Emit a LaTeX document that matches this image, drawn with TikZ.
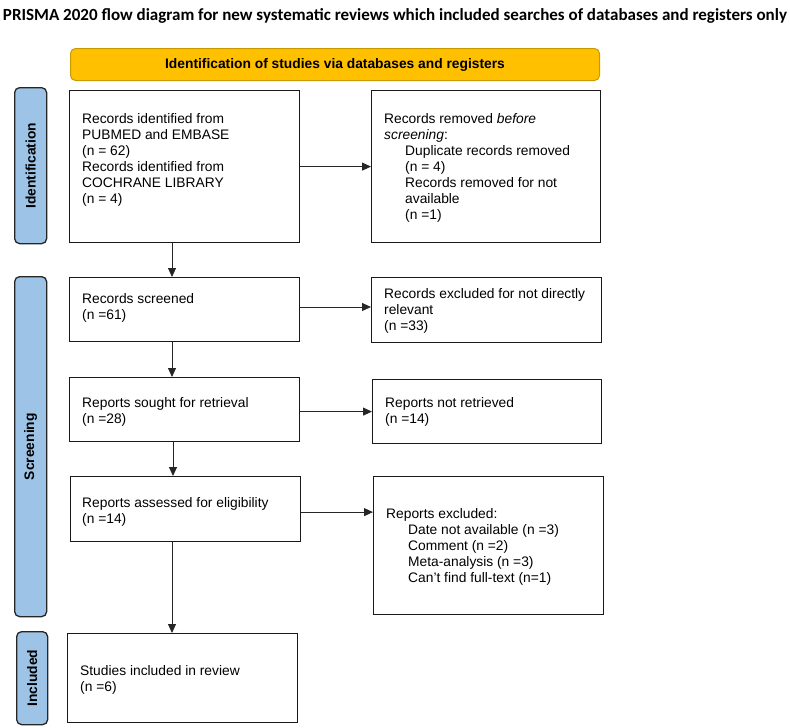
\documentclass[tikz,border=0pt]{standalone}
\usepackage{graphicx}
\usepackage{fontspec}
\setmainfont{Liberation Sans}
\newfontfamily\titlefont{Carlito}
\usetikzlibrary{arrows.meta}
\definecolor{gold}{HTML}{FFC000}
\definecolor{goldline}{HTML}{C99A00}
\definecolor{sideblue}{HTML}{9DC3E6}
\begin{document}
\begin{tikzpicture}[x=1pt,y=-1pt,
 box/.style={draw=black!90, line width=1.2pt, anchor=north west, inner sep=0pt, fill=white},
 txt/.style={anchor=base west, inner sep=0pt, align=left, font=\fontsize{13.8}{16}\selectfont},
 side/.style={draw=black!85, line width=1.3pt, fill=sideblue, rounded corners=5pt, anchor=north west, inner sep=0pt},
 sidetxt/.style={rotate=90, inner sep=0pt, font=\fontsize{13.8}{16}\selectfont\bfseries},
 arr/.style={-{Triangle[length=9pt,width=8pt]}, line width=0.9pt, draw=black!85}]
\useasboundingbox (0,0) rectangle (790,728);
% title
\node[anchor=base, inner sep=0pt] (title) at (395,20) {\resizebox{784pt}{!}{\titlefont\bfseries PRISMA 2020 flow diagram for new systematic reviews which included searches of databases and registers only}};
% header
\node[draw=goldline, fill=gold, line width=1pt, rounded corners=5pt, minimum width=529pt, minimum height=32pt, anchor=north west, inner sep=0pt] (hdr) at (70,48) {};
\node[inner sep=0pt, font=\fontsize{13.8}{16}\selectfont\bfseries] (hdrtxt) at (hdr.center) {Identification of studies via databases and registers};
% side labels
\node[side, minimum width=32pt, minimum height=156pt] (s1) at (14,87) {};
\node[sidetxt] (l1) at (s1.center) {Identification};
\node[side, minimum width=32pt, minimum height=340pt] (s2) at (14,276) {};
\node[sidetxt] (l2) at (s2.center) {Screening};
\node[side, minimum width=31pt, minimum height=93pt] (s3) at (16,631) {};
\node[sidetxt] (l3) at (s3.center) {Included};
% boxes
\node[box, minimum width=230pt, minimum height=152pt] (b1) at (69,90) {};
\node[box, minimum width=229pt, minimum height=152pt] (b2) at (371,90) {};
\node[box, minimum width=230pt, minimum height=64pt] (b3) at (69,277) {};
\node[box, minimum width=230pt, minimum height=65pt] (b4) at (371,277) {};
\node[box, minimum width=230pt, minimum height=64pt] (b5) at (69,377) {};
\node[box, minimum width=229pt, minimum height=64pt] (b6) at (372,379) {};
\node[box, minimum width=230pt, minimum height=65pt] (b7) at (70,476) {};
\node[box, minimum width=230pt, minimum height=138pt] (b8) at (373,476) {};
\node[box, minimum width=230pt, minimum height=89pt] (b9) at (67,633) {};
% texts (anchored at the baseline of the last line)
\node[txt] (t1) at (82,203) {Records identified from\\PUBMED and EMBASE\\(n = 62)\\Records identified from\\COCHRANE LIBRARY\\(n = 4)};
\node[txt] (t2) at (384,219) {Records removed \textit{before}\\\textit{screening}:\\\hspace*{21pt}Duplicate records removed\\\hspace*{21pt}(n = 4)\\\hspace*{21pt}Records removed for not\\\hspace*{21pt}available\\\hspace*{21pt}(n =1)};
\node[txt] (t3) at (82,319) {Records screened\\(n =61)};
\node[txt] (t4) at (384,330) {Records excluded for not directly\\relevant\\(n =33)};
\node[txt] (t5) at (82,423) {Reports sought for retrieval\\(n =28)};
\node[txt] (t6) at (385,423) {Reports not retrieved\\(n =14)};
\node[txt] (t7) at (82,523) {Reports assessed for eligibility\\(n =14)};
\node[txt] (t8) at (386,582) {Reports excluded:\\\hspace*{22pt}Date not available (n =3)\\\hspace*{22pt}Comment (n =2)\\\hspace*{22pt}Meta-analysis (n =3)\\\hspace*{22pt}Can’t find full-text (n=1)};
\node[txt] (t9) at (80,691) {Studies included in review\\(n =6)};
% arrows
\draw[arr] (b1.east) -- (b2.west);
\draw[arr] (b3.east |- 0,307) -- (b4.west |- 0,307);
\draw[arr] (b5.east |- b6.west) -- (b6.west);
\draw[arr] ([yshift=-3pt]b7.east) -- ([yshift=-3pt]b7.east -| b8.west);
\draw[arr] ([xshift=103pt]b1.south west) -- ([xshift=103pt]b1.south west |- b3.north);
\draw[arr] ([xshift=103pt]b3.south west) -- ([xshift=103pt]b3.south west |- b5.north);
\draw[arr] ([xshift=104pt]b5.south west) -- ([xshift=104pt]b5.south west |- b7.north);
\draw[arr] ([xshift=102pt]b7.south west) -- ([xshift=102pt]b7.south west |- b9.north);
\end{tikzpicture}
\end{document}
